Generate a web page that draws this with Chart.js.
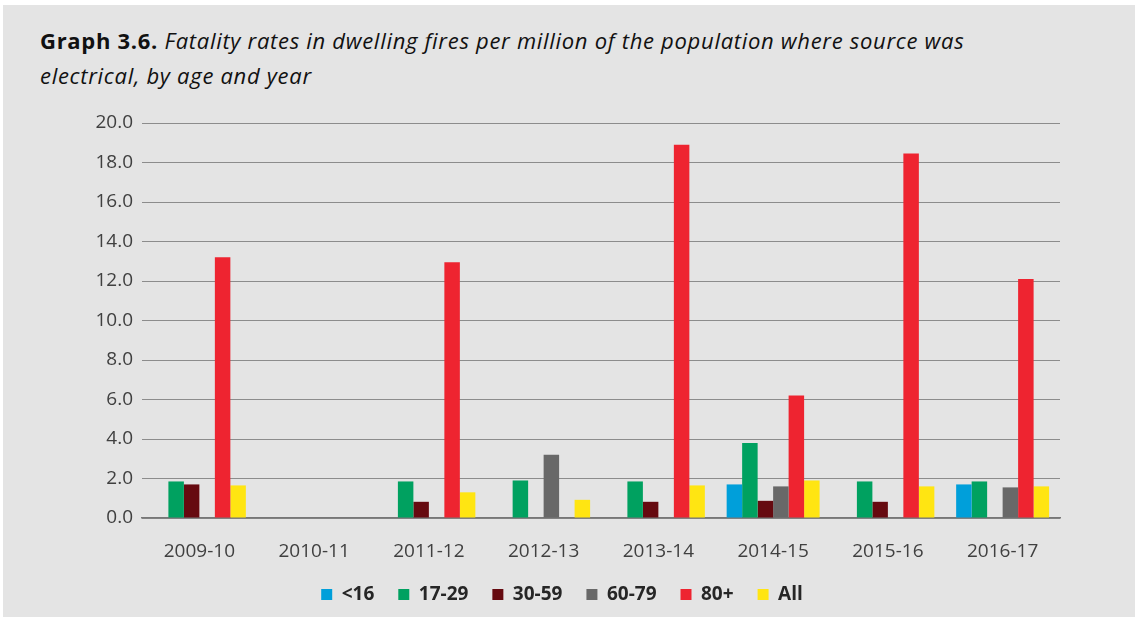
<!DOCTYPE html>
<html>
<head>
<meta charset="utf-8">
<script src="https://cdn.jsdelivr.net/npm/chart.js@4"></script>
<style>
    html, body { margin: 0; padding: 0; background: #ffffff; }
    body { width: 1138px; height: 619px; position: relative; overflow: hidden; }
    .panel { position: absolute; left: 3px; top: 5px; width: 1132px; height: 612px; background: #e4e4e4; }
    .title {
        position: absolute; left: 40px; top: 23px; width: 945px;
        font-family: 'Open Sans', sans-serif; font-size: 22px; line-height: 35px; color: #111111;
        letter-spacing: 0.7px;
    }
    .title b { font-weight: 700; }
    .title i { font-style: italic; }
    #chartWrap { position: absolute; left: 0; top: 0; width: 1138px; height: 619px; }
</style>
</head>
<body>
<div class="panel"></div>
<div class="title"><b>Graph 3.6.</b> <i>Fatality rates in dwelling fires per million of the population where source was electrical, by age and year</i></div>
<div id="chartWrap"><canvas id="fireChart" width="1138" height="619"></canvas></div>
<script>
// ==================== DATA ====================
const years = ['2009-10', '2010-11', '2011-12', '2012-13', '2013-14', '2014-15', '2015-16', '2016-17'];
const under16 = [null, null, null, null, null, 1.7, null, 1.7];
const age17to29 = [1.85, null, 1.85, 1.9, 1.85, 3.8, 1.85, 1.85];
const age30to59 = [1.7, null, 0.82, null, 0.82, 0.87, 0.82, null];
const age60to79 = [null, null, null, 3.2, null, 1.6, null, 1.55];
const age80plus = [13.2, null, 12.95, null, 18.9, 6.2, 18.45, 12.1];
const allAges = [1.65, null, 1.3, 0.92, 1.65, 1.9, 1.6, 1.6];
const yTicks = [0, 2, 4, 6, 8, 10, 12, 14, 16, 18, 20];

// ==================== CHART ====================
function makeSet(label, data, color) {
    return {
        label: label,
        data: data,
        backgroundColor: color,
        borderWidth: 0,
        categoryPercentage: 0.81,
        barPercentage: 1.0
    };
}

const ctx = document.getElementById('fireChart');
new Chart(ctx, {
    type: 'bar',
    data: {
        labels: years,
        datasets: [
            makeSet('<16', under16, '#009fda'),
            makeSet('17-29', age17to29, '#00a160'),
            makeSet('30-59', age30to59, '#660a10'),
            makeSet('60-79', age60to79, '#686868'),
            makeSet('80+', age80plus, '#ee2430'),
            makeSet('All', allAges, '#ffe512')
        ]
    },
    options: {
        responsive: false,
        animation: false,
        devicePixelRatio: 1,
        // left padding shifts the legend centre to match the original
        layout: { padding: { left: 64, right: 78, top: 123, bottom: 5 } },
        plugins: {
            title: { display: false },
            tooltip: { enabled: false },
            legend: {
                position: 'bottom',
                labels: {
                    boxWidth: 11, boxHeight: 11, padding: 24, color: '#262626',
                    font: { size: 19, weight: 'bold', family: 'Open Sans' }
                }
            }
        },
        scales: {
            y: {
                min: 0, max: 20,
                afterFit: (scale) => { scale.width = 78; },
                afterBuildTicks: (scale) => { scale.ticks = yTicks.map(v => ({ value: v })); },
                grid: { color: '#8c8c8c', lineWidth: 1, drawTicks: false },
                border: { display: false },
                ticks: {
                    padding: 9, color: '#404040',
                    font: { size: 19, family: 'Open Sans' },
                    callback: (v) => v.toFixed(1)
                }
            },
            x: {
                afterFit: (scale) => { scale.height = 43; },
                grid: { display: false, drawTicks: false },
                border: { display: true, color: '#777777', width: 1.5 },
                ticks: { padding: 22, color: '#404040', font: { size: 19, family: 'Open Sans' } }
            }
        }
    }
});
</script>
</body>
</html>
